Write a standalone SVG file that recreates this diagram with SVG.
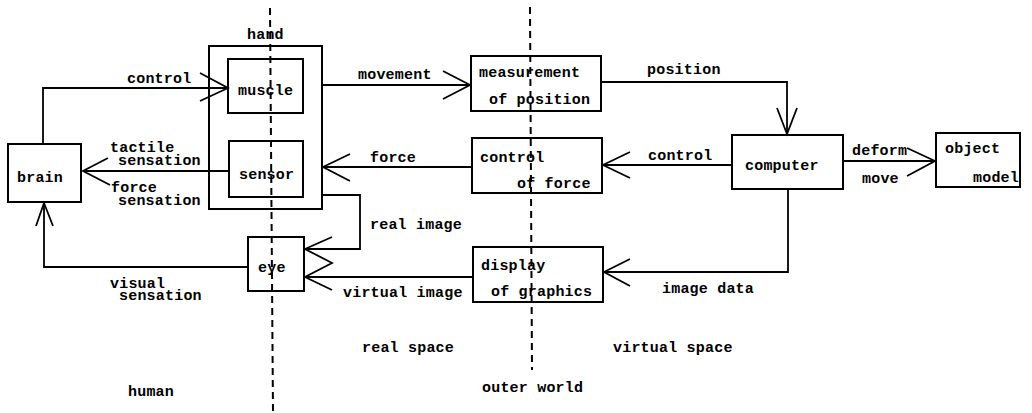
<svg xmlns="http://www.w3.org/2000/svg" width="1032" height="413" viewBox="0 0 1032 413">
<style>
.box{fill:none;stroke:#000;stroke-width:2}
.ln{fill:none;stroke:#000;stroke-width:1.8}
.dash{fill:none;stroke:#000;stroke-width:2;stroke-dasharray:7 5}
text{font-family:"Liberation Mono","DejaVu Sans Mono",monospace;font-size:15px;letter-spacing:0.2px;fill:#000;font-weight:bold}
</style>
<rect width="1032" height="413" fill="#fff"/>
<g id="dividers">
<line class="dash" x1="270" y1="8" x2="273" y2="413"/>
<line class="dash" x1="530" y1="7" x2="532" y2="370"/>
</g>
<g id="brain"><rect class="box" x="8" y="144" width="73" height="58"/><text x="17" y="182">brain</text></g>
<g id="hand"><rect class="box" x="209" y="46" width="113" height="163"/><text x="247" y="39">hand</text></g>
<g id="muscle"><rect class="box" x="228" y="59" width="75" height="54"/><text x="238" y="95">muscle</text></g>
<g id="sensor"><rect class="box" x="229" y="141" width="74" height="56"/><text x="239" y="179">sensor</text></g>
<g id="eye"><rect class="box" x="248" y="237" width="56" height="54"/><text x="258" y="272">eye</text></g>
<g id="measurement"><rect class="box" x="471" y="56" width="130" height="55"/><text x="479" y="77">measurement</text><text x="489" y="104">of position</text></g>
<g id="controlforce"><rect class="box" x="472" y="138" width="130" height="55"/><text x="480" y="162">control</text><text x="517" y="188">of force</text></g>
<g id="display"><rect class="box" x="473" y="247" width="130" height="55"/><text x="481" y="270">display</text><text x="491" y="296">of graphics</text></g>
<g id="computer"><rect class="box" x="732" y="135" width="111" height="54"/><text x="745" y="170">computer</text></g>
<g id="objectmodel"><rect class="box" x="936" y="133" width="84" height="54"/><text x="945" y="153">object</text><text x="973" y="182">model</text></g>
<g id="connectors">
<polyline class="ln" points="43,144 43,88 228,88"/>
<polyline class="ln" points="200,73 228,88 200,101"/>
<line class="ln" x1="229" y1="171" x2="83" y2="171"/>
<polyline class="ln" points="108,158 83,171 110,185"/>
<line class="ln" x1="322" y1="85" x2="471" y2="85"/>
<polyline class="ln" points="443,71 470,85 443,99"/>
<polyline class="ln" points="601,82 787,82 787,134"/>
<polyline class="ln" points="777,108 787,134 797,108"/>
<line class="ln" x1="732" y1="165" x2="603" y2="165"/>
<polyline class="ln" points="630,152 603,165 630,178"/>
<line class="ln" x1="472" y1="167" x2="323" y2="167"/>
<polyline class="ln" points="350,154 323,167 350,181"/>
<line class="ln" x1="843" y1="161" x2="936" y2="161"/>
<polyline class="ln" points="907,148 935,161 907,176"/>
<polyline class="ln" points="788,189 788,272 604,272"/>
<polyline class="ln" points="630,259 604,272 630,286"/>
<polyline class="ln" points="322,195 360,195 360,249 305,249"/>
<line class="ln" x1="473" y1="277" x2="305" y2="277"/>
<polyline class="ln" points="332,237 305,249 332,263 305,277 332,290"/>
<polyline class="ln" points="248,267 44,267 44,203"/>
<polyline class="ln" points="36,226 44,203 53,226"/>
</g>
<g id="labels">
<text x="127" y="83">control</text>
<text x="110" y="152">tactile</text>
<text x="118" y="165">sensation</text>
<text x="111" y="192">force</text>
<text x="118" y="205">sensation</text>
<text x="358" y="79">movement</text>
<text x="647" y="74">position</text>
<text x="648" y="160">control</text>
<text x="370" y="162">force</text>
<text x="852" y="155">deform</text>
<text x="862" y="183">move</text>
<text x="370" y="229">real image</text>
<text x="343" y="297">virtual image</text>
<text x="662" y="293">image data</text>
<text x="110" y="288">visual</text>
<text x="119" y="300">sensation</text>
<text x="362" y="352">real space</text>
<text x="613" y="352">virtual space</text>
<text x="128" y="396">human</text>
<text x="482" y="392">outer world</text>
</g>
</svg>
